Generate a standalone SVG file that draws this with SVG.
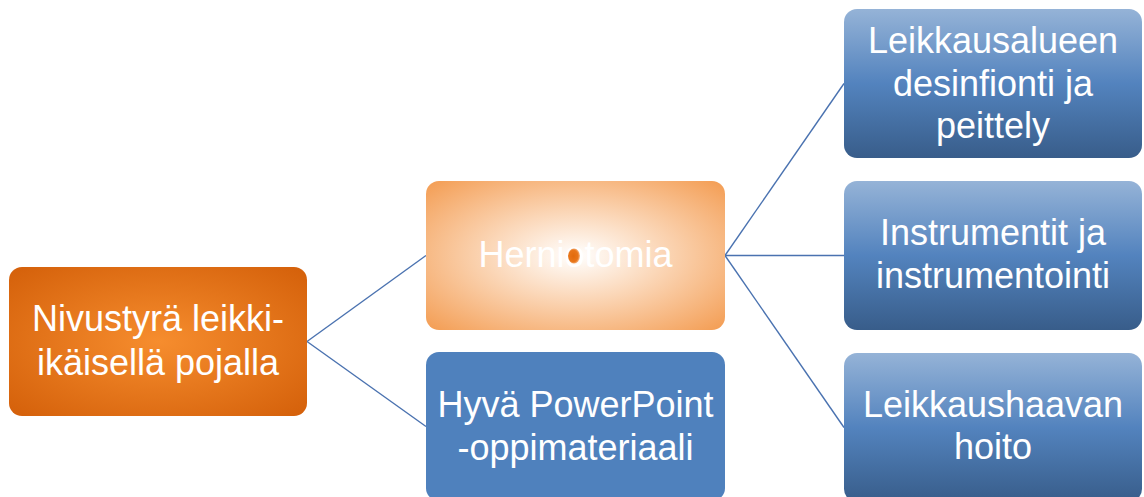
<svg xmlns="http://www.w3.org/2000/svg" width="1144" height="497" viewBox="0 0 1144 497">
<defs>
<radialGradient id="gOrange" cx="50%" cy="50%" r="70%">
<stop offset="0" stop-color="#F68D2E"/>
<stop offset="1" stop-color="#D4600A"/>
</radialGradient>
<radialGradient id="gLight" cx="50%" cy="50%" r="72%">
<stop offset="0" stop-color="#FFFFFF"/>
<stop offset="0.4" stop-color="#FBD7B8"/>
<stop offset="1" stop-color="#F39A4E"/>
</radialGradient>
<linearGradient id="gBlue" x1="0" y1="0" x2="0" y2="1">
<stop offset="0" stop-color="#95B3D7"/>
<stop offset="0.5" stop-color="#5383BE"/>
<stop offset="1" stop-color="#385D8A"/>
</linearGradient>
<radialGradient id="gDot" cx="45%" cy="50%" r="55%">
<stop offset="0" stop-color="#E26A0C"/>
<stop offset="0.7" stop-color="#E8761A"/>
<stop offset="1" stop-color="#F6B98A"/>
</radialGradient>
</defs>
<style>
.t{font-family:"Liberation Sans",Arial,sans-serif;font-size:36px;fill:#FFFFFF;text-anchor:middle}
.c{fill:none;stroke:#4A72B0;stroke-width:1.4}
</style>
<g id="connectors">
<line class="c" x1="307" y1="341.5" x2="426" y2="255.5"/>
<line class="c" x1="307" y1="341.5" x2="426" y2="426.5"/>
<line class="c" x1="725" y1="255.5" x2="844" y2="83.5"/>
<line class="c" x1="725" y1="255.5" x2="844" y2="255.5"/>
<line class="c" x1="725" y1="255.5" x2="844" y2="427.5"/>
</g>
<g id="node-root">
<rect x="9" y="267" width="298" height="149" rx="13" fill="url(#gOrange)"/>
<text class="t" x="158" y="331">Nivustyrä leikki-</text>
<text class="t" x="158" y="375">ikäisellä pojalla</text>
</g>
<g id="node-herniotomia">
<rect x="426" y="181" width="299" height="149" rx="13" fill="url(#gLight)"/>
<text class="t" x="575.5" y="267">Herniotomia</text>
<ellipse cx="574" cy="256" rx="6" ry="7.5" fill="url(#gDot)"/>
</g>
<g id="node-powerpoint">
<rect x="426" y="352" width="299" height="149" rx="13" fill="#4F81BD"/>
<text class="t" x="575.5" y="417">Hyvä PowerPoint</text>
<text class="t" x="575.5" y="460">-oppimateriaali</text>
</g>
<g id="node-desinfiointi">
<rect x="844" y="9" width="298" height="149" rx="13" fill="url(#gBlue)"/>
<text class="t" x="993" y="53">Leikkausalueen</text>
<text class="t" x="993" y="96">desinfionti ja</text>
<text class="t" x="993" y="138">peittely</text>
</g>
<g id="node-instrumentit">
<rect x="844" y="181" width="298" height="149" rx="13" fill="url(#gBlue)"/>
<text class="t" x="993" y="245">Instrumentit ja</text>
<text class="t" x="993" y="288">instrumentointi</text>
</g>
<g id="node-haava">
<rect x="844" y="353" width="298" height="149" rx="13" fill="url(#gBlue)"/>
<text class="t" x="993" y="417">Leikkaushaavan</text>
<text class="t" x="993" y="459">hoito</text>
</g>
</svg>
